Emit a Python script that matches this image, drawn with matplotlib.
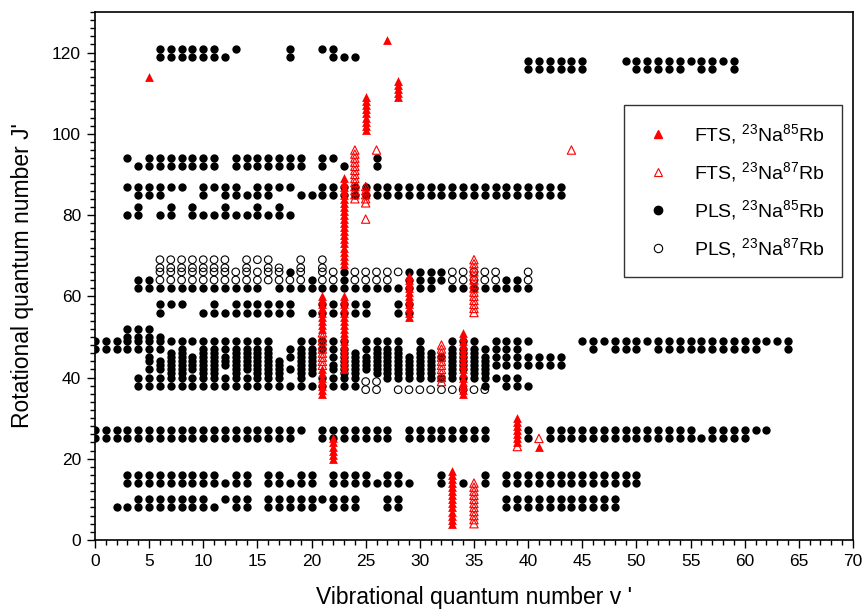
import matplotlib
matplotlib.use("Agg")
import matplotlib.pyplot as plt
from matplotlib.lines import Line2D
from matplotlib.ticker import MultipleLocator

plt.rcParams["font.family"] = ["Liberation Sans", "DejaVu Sans"]
plt.rcParams["mathtext.fontset"] = "custom"
plt.rcParams["mathtext.rm"] = "Liberation Sans"
plt.rcParams["mathtext.default"] = "regular"


def seq(*parts):
    # ints are single levels, (a, b) tuples are inclusive runs of levels
    out = []
    for p in parts:
        if isinstance(p, tuple):
            out.extend(range(p[0], p[1] + 1))
        else:
            out.append(p)
    return out


# PLS, 23Na85Rb : J' -> list of v'
pls85_high = {
    121: seq((6, 11), 13, 18, 21, 22),
    119: seq((6, 12), 18, (22, 24)),
    118: seq((40, 45), (49, 59)),
    116: seq((40, 45), (50, 54), 56, 57, 59),
}
pls85_upper = {
    94: seq(3, (5, 11), (13, 19), 21, 22, 26),
    92: seq((4, 11), (13, 19), 21, 23, 26),
    87: seq((3, 8), (10, 13), (15, 18), (21, 43)),
    85: seq((4, 6), 10, (12, 16), (19, 43)),
    82: seq(4, 7, 9, 12, 15, 17),
    80: seq(3, 4, 6, 7, (9, 18)),
}
pls85_mid = {
    66: seq(18, 23, (29, 32)),
    64: seq(4, 5, 20, 23, (29, 32), 38, 39),
    62: seq((4, 15), (17, 31), (33, 40)),
    58: seq((6, 8), 11, (13, 18), (21, 25), 28, 29),
    56: seq(6, (10, 18), (20, 25), 28, 29),
    52: seq((3, 5)),
    50: seq((3, 6)),
}
pls85_dense = {
    49: seq((0, 16), (19, 23), (25, 28), 30, (33, 35), (37, 40), (45, 64)),
    47: seq((0, 6), 8, (10, 16), (18, 23), (25, 28), 30, (33, 39), 46, (48, 50), (52, 61), 64),
    46: seq(7, 8, 10, 11, (13, 16), 19, 20, 23, 24, (26, 28), 30, 31, (33, 35)),
    45: seq(5, (7, 16), (18, 20), (22, 43)),
    44: seq((5, 17), 19, 20, (23, 31), (33, 36)),
    43: seq((6, 17), 19, 20, (22, 31), (33, 43)),
    42: seq((5, 11), (13, 20), (22, 31), (33, 36)),
    41: seq(7, 8, 10, 11, 13, (15, 17), 19, 20, 23, 24, (26, 31), 33, 35, 36),
    40: seq((4, 17), 19, (21, 24), (27, 39)),
    38: seq((4, 24), 36, (38, 40)),
}
pls85_low = {
    27: seq((0, 19), (21, 27), (29, 36), 40, (42, 55), (57, 62)),
    25: seq((0, 18), (21, 27), (29, 36), 40, (42, 60)),
    16: seq((3, 11), 13, 14, 16, 17, 19, 20, (22, 25), 27, 28, 32, 36, (38, 50)),
    14: seq((3, 14), (16, 20), (22, 29), 32, 34, 36, (38, 50)),
    10: seq((4, 10), (12, 14), (16, 24), 27, 28, (38, 48)),
    8: seq((2, 11), 13, 14, (16, 20), (22, 24), 27, 28, (38, 48)),
}

# PLS, 23Na87Rb : J' -> list of v'
pls87_rows = {
    69: seq((6, 12), (14, 16), 19, 21),
    67: seq((6, 12), 14, 16, 17, 19, 21),
    66: seq((6, 17), 19, 21, 22, (24, 28), (33, 37), 40),
    64: seq((6, 19), 21, 22, (24, 27), (33, 37), 40),
    39: seq(25, 26),
    37: seq(25, 26, (28, 36)),
}

# FTS, 23Na85Rb : v' -> list of J'
fts85_cols = [
    (5, [114]),
    (27, [123]),
    (25, seq((101, 109))),
    (28, seq((109, 113))),
    (23, seq((68, 89))),
    (23, seq((42, 60))),
    (21, seq((36, 42), (52, 60))),
    (29, seq((55, 65))),
    (34, seq((36, 51))),
    (22, seq((20, 25))),
    (39, seq((24, 30))),
    (41, [23]),
    (33, seq((4, 17))),
]

# FTS, 23Na87Rb : v' -> list of J'
fts87_cols = [
    (24, seq((84, 96))),
    (26, [96]),
    (44, [96]),
    (25, seq(79, (83, 87))),
    (35, seq((56, 69))),
    (21, seq((43, 51))),
    (32, seq((39, 48))),
    (39, [23]),
    (41, [25]),
    (35, seq((4, 14))),
]


def rows_to_xy(*groups):
    xs, ys = [], []
    for g in groups:
        for j, vs in g.items():
            xs += vs
            ys += [j] * len(vs)
    return xs, ys


def cols_to_xy(cols):
    xs, ys = [], []
    for v, js in cols:
        xs += [v] * len(js)
        ys += js
    return xs, ys


fig = plt.figure(figsize=(8.68, 6.10), dpi=100)
ax = fig.add_axes([0.1094, 0.1148, 0.8733, 0.8656])

x, y = rows_to_xy(pls85_high, pls85_upper, pls85_mid, pls85_dense, pls85_low)
ax.scatter(x, y, s=36, marker="o", color="black", linewidths=0, zorder=2)

x, y = rows_to_xy(pls87_rows)
ax.scatter(x, y, s=30, marker="o", facecolors="none", edgecolors="black",
           linewidths=0.8, zorder=2)

x, y = cols_to_xy(fts85_cols)
ax.scatter(x, y, s=40, marker="^", color="red", linewidths=0, zorder=3)

x, y = cols_to_xy(fts87_cols)
ax.scatter(x, y, s=36, marker="^", facecolors="none", edgecolors="red",
           linewidths=0.8, zorder=3)

ax.set_xlim(0, 70)
ax.set_ylim(0, 130)
ax.xaxis.set_major_locator(MultipleLocator(5))
ax.xaxis.set_minor_locator(MultipleLocator(1))
ax.yaxis.set_major_locator(MultipleLocator(20))
ax.yaxis.set_minor_locator(MultipleLocator(2))
ax.tick_params(which="both", direction="out", width=1.0, top=False, right=False)
ax.tick_params(which="major", length=6, labelsize=12.5, pad=4)
ax.tick_params(which="minor", length=3.5)
for sp in ax.spines.values():
    sp.set_linewidth(1.2)

ax.set_xlabel("Vibrational quantum number v '", fontsize=16.5, labelpad=12)
ax.set_ylabel("Rotational quantum number J'", fontsize=16.5, labelpad=13)

handles = [
    Line2D([], [], ls="none", marker="^", color="red", markersize=6),
    Line2D([], [], ls="none", marker="^", markerfacecolor="none",
           markeredgecolor="red", markersize=6, markeredgewidth=0.8),
    Line2D([], [], ls="none", marker="o", color="black", markersize=6),
    Line2D([], [], ls="none", marker="o", markerfacecolor="none",
           markeredgecolor="black", markersize=6, markeredgewidth=0.8),
]
labels = [
    r"FTS, $^{23}$Na$^{85}$Rb",
    r"FTS, $^{23}$Na$^{87}$Rb",
    r"PLS, $^{23}$Na$^{85}$Rb",
    r"PLS, $^{23}$Na$^{87}$Rb",
]
leg = ax.legend(handles, labels, loc="upper right", bbox_to_anchor=(0.985, 0.824),
                fontsize=14, frameon=True, fancybox=False, borderpad=0.9,
                handlelength=1.7, handletextpad=1.0, labelspacing=0.72,
                borderaxespad=0)
leg.get_frame().set_edgecolor("black")
leg.get_frame().set_linewidth(1.0)

fig.savefig("out.png", dpi=100)
